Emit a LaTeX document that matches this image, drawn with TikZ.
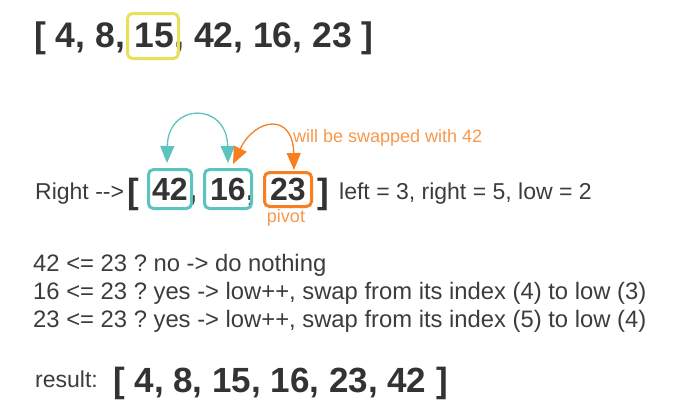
\documentclass[tikz,border=0pt]{standalone}
\usepackage{fontspec}
\setmainfont{Liberation Sans}[Ligatures=TeXOff]
\usetikzlibrary{arrows.meta}
\definecolor{txt}{HTML}{333333}
\definecolor{txtl}{HTML}{3C3C3C}
\definecolor{teal}{HTML}{5CC3BE}
\definecolor{org}{HTML}{F77F1F}
\definecolor{orgl}{HTML}{F8984A}
\definecolor{ylw}{HTML}{E8E05A}
\tikzset{
  big/.style={font=\fontsize{35.5}{35.5}\selectfont\bfseries, text=txt, inner sep=0pt, anchor=base west},
  mid/.style={font=\fontsize{23}{23}\selectfont, text=txtl, inner sep=0pt, anchor=base west},
  stepline/.style={font=\fontsize{23.8}{23.8}\selectfont, text=txtl, inner sep=0pt, anchor=base west},
  cell/.style={font=\fontsize{32}{32}\selectfont\bfseries, text=txt, inner sep=0pt, anchor=base},
  brk/.style={font=\fontsize{35}{35}\selectfont\bfseries, text=txt, inner sep=0pt, anchor=base},
  boxed/.style={draw=#1, line width=3pt, rounded corners=5pt},
  note/.style={font=\fontsize{18}{18}\selectfont, text=orgl, inner sep=0pt},
  bighead/.tip={Triangle[length=17pt,width=14pt]},
}
\frenchspacing
\begin{document}
\begin{tikzpicture}[x=1pt,y=-1pt]
\useasboundingbox (0,0) rectangle (681,416);
% top array
\node[big] (top) at (34,47) {[ 4, 8, 15, 42, 16, 23 ]};
\node[boxed=ylw, minimum width=51pt, minimum height=45pt] (b15) at (153,36) {};
% middle row
\node[mid] (right) at (35,199) {Right -->};
\node[brk] (lb) at (133,203) {[};
\node[cell] (t42) at (170,200) {42};
\node[cell] (t16) at (228,200) {16};
\node[cell] (t23) at (288,200) {23};
\node[cell, anchor=base west] (comma1) at (t42.base east) {,};
\node[cell, anchor=base west] (comma2) at (t16.base east) {,};
\node[boxed=teal, minimum width=43pt, minimum height=39pt] (c42) at (170,189) {};
\node[boxed=teal, minimum width=47pt, minimum height=39pt] (c16) at (228,189) {};
\node[boxed=org, minimum width=47pt, minimum height=34pt] (c23) at (288,189.5) {};
\node[brk] (rb) at (323,203) {]};
\node[mid] (info) at (339,199) {left = 3, right = 5, low = 2};
\node[note, anchor=base] (pivot) at (286,222) {pivot};
\node[note, anchor=base west] (will) at (293,142) {will be swapped with 42};
% arrows
\coordinate (a42) at (167,163);
\coordinate (a16) at (228,163);
\coordinate (o16) at (233,164);
\coordinate (o23) at (294,170);
\draw[teal, line width=1.3pt, bighead-bighead] (a42) .. controls (168,102) and (227,102) .. (a16);
\draw[org, line width=1.3pt, bighead-bighead] (o16) .. controls (255,118) and (293,112) .. (o23);
% steps
\node[stepline] (s1) at (33,271) {42 <= 23 ? no -> do nothing};
\node[stepline] (s2) at (33,299) {16 <= 23 ? yes -> low++, swap from its index (4) to low (3)};
\node[stepline] (s3) at (33,327) {23 <= 23 ? yes -> low++, swap from its index (5) to low (4)};
\node[mid] (res) at (35,387) {result:};
\node[big, font=\fontsize{35}{35}\selectfont\bfseries] (arr) at (113,392) {[ 4, 8, 15, 16, 23, 42 ]};
\end{tikzpicture}
\end{document}
